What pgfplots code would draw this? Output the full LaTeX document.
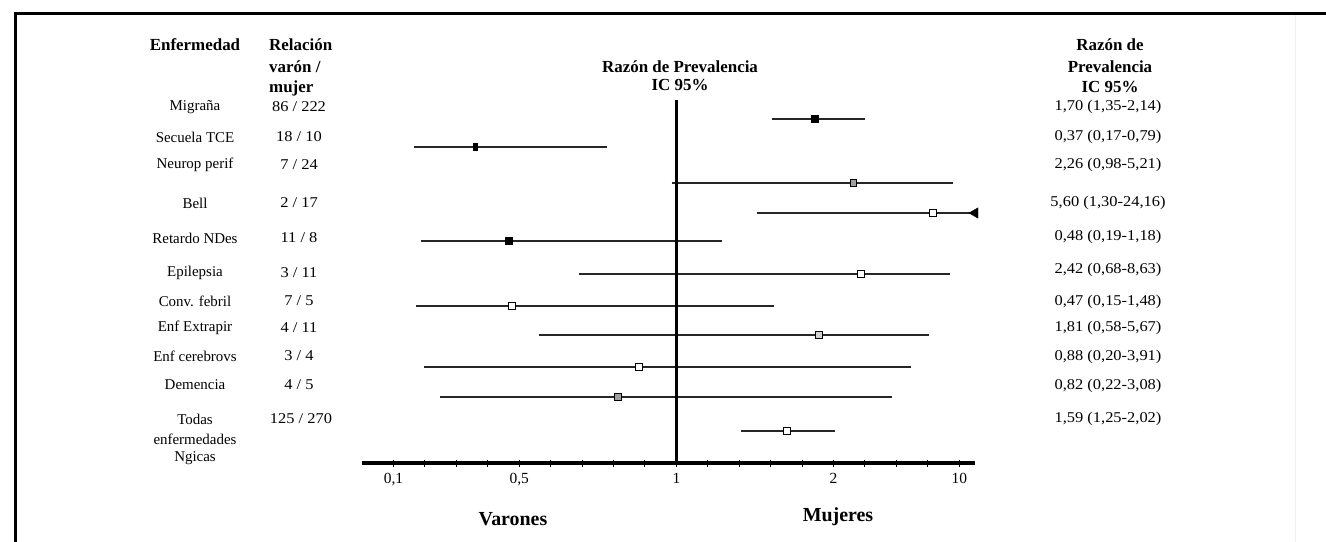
\documentclass[border=0pt]{standalone}
\usepackage{pgfplots}
\pgfplotsset{compat=1.18}
\usepackage{pgfplotstable}
\usepackage{fontspec}
\setmainfont{Liberation Serif}

% Positions as drawn in the original figure (its RR scale is not a true log scale):
% x unit = one minor tick; 0,1 -> 0 ; 0,5 -> 4 ; 1 -> 9 ; 2 -> 14 ; 10 -> 18
% y = height of the row above the x axis line
\pgfplotstableread{
x y
12.04 344
14.99 344
nan nan
0.66 316
6.80 316
nan nan
8.85 280
17.80 280
nan nan
11.56 250
18.45 250
nan nan
0.88 222
10.46 222
nan nan
5.90 189
17.70 189
nan nan
0.72 157
12.10 157
nan nan
4.63 128
17.03 128
nan nan
0.98 96
16.46 96
nan nan
1.48 66
15.85 66
nan nan
11.05 32
14.04 32
}\cilines

\newcommand{\bodyf}{\fontsize{15}{17}\selectfont}
\newcommand{\headf}{\fontsize{17}{19}\selectfont\bfseries}
\tikzset{txt/.style={font=\bodyf, inner sep=0},
         num/.style={font=\bodyf, inner sep=0, xscale=1.1, transform shape},
         hd/.style={font=\headf, inner sep=0}}

\begin{document}
\begin{tikzpicture}
\useasboundingbox (0,0) rectangle (1326bp,-542bp);
\begin{axis}[
  at={(362bp,-463bp)}, anchor=south west,
  scale only axis, width=613bp, height=368bp,
  xmin=-1, xmax=18.5, ymin=0, ymax=368,
  axis x line*=bottom, axis y line=none,
  x axis line style={line width=4bp, black},
  xtick={0,4,9,14,18},
  xticklabels={{0,1},{0,5},1,2,10},
  minor xtick={1,2,3,5,6,7,8,10,11,12,13,15,16,17},
  major tick length=7bp, minor tick length=7bp,
  tick align=center,
  tick style={line width=1bp, black},
  xticklabel style={font=\fontsize{15.5}{17}\selectfont, yshift=-3bp},
  clip=false,
]
\addplot[black!85, line width=1.8bp, unbounded coords=jump] table {\cilines};
\addplot[black, line width=3bp] coordinates {(9,0) (9,363)};
% filled black squares
\addplot[only marks, mark=square*, mark size=3.5bp, mark options={fill=black, draw=black}]
  coordinates {(13.40,344) (3.68,222)};
% narrow black marker (Secuela TCE)
\addplot[only marks, mark=square*, mark size=3.5bp, mark options={fill=black, draw=black, xscale=0.45}]
  coordinates {(2.60,316)};
% grey squares
\addplot[only marks, mark=square*, mark size=3.3bp, mark options={fill=gray!75, draw=black, line width=1bp}]
  coordinates {(14.63,280) (7.14,66)};
\addplot[only marks, mark=square*, mark size=3.3bp, mark options={fill=gray!35, draw=black, line width=1.4bp}]
  coordinates {(13.54,128)};
% white squares
\addplot[only marks, mark=square*, mark size=3.5bp, mark options={fill=white, draw=black, line width=0.9bp}]
  coordinates {(17.16,250) (14.87,189) (3.77,157) (7.81,96) (12.52,32)};
% arrow head (Bell)
\addplot[only marks, mark=triangle*, mark size=6bp, mark options={fill=black, draw=black, rotate=90}]
  coordinates {(18.50,250)};
\end{axis}

% frame
\draw[line width=3bp] (15bp,-542bp) -- (15bp,-13bp) -- (1326bp,-13bp);
\draw[line width=1bp, gray!12] (1295bp,-15bp) -- (1295bp,-542bp);

% headers
\node[hd] at (195bp,-45bp) {Enfermedad};
\node[hd, anchor=west] at (269bp,-45bp) {Relación};
\node[hd, anchor=west] at (269bp,-67bp) {varón /};
\node[hd, anchor=west] at (269bp,-88bp) {mujer};
\node[hd] at (680bp,-67bp) {Razón de Prevalencia};
\node[hd] at (680bp,-85bp) {IC 95\%};
\node[hd] at (1110bp,-45bp) {Razón de};
\node[hd] at (1110bp,-67bp) {Prevalencia};
\node[hd] at (1110bp,-87bp) {IC 95\%};

% disease names
\node[txt] at (195bp,-107bp) {Migraña};
\node[txt] at (195bp,-137bp) {Secuela TCE};
\node[txt] at (195bp,-165bp) {Neurop perif};
\node[txt] at (195bp,-203bp) {Bell};
\node[txt] at (195bp,-238bp) {Retardo NDes};
\node[txt] at (195bp,-273bp) {Epilepsia};
\node[txt] at (195bp,-301bp) {Conv. febril};
\node[txt] at (195bp,-328bp) {Enf Extrapir};
\node[txt] at (195bp,-356bp) {Enf cerebrovs};
\node[txt] at (195bp,-385bp) {Demencia};
\node[txt] at (195bp,-419bp) {Todas};
\node[txt] at (195bp,-439bp) {enfermedades};
\node[txt] at (195bp,-458bp) {Ngicas};

% male / female counts
\node[num] at (299bp,-107bp) {86 / 222};
\node[num] at (299bp,-137bp) {18 / 10};
\node[num] at (299bp,-165bp) {7 / 24};
\node[num] at (299bp,-203bp) {2 / 17};
\node[num] at (299bp,-238bp) {11 / 8};
\node[num] at (299bp,-273bp) {3 / 11};
\node[num] at (299bp,-301bp) {7 / 5};
\node[num] at (299bp,-328bp) {4 / 11};
\node[num] at (299bp,-356bp) {3 / 4};
\node[num] at (299bp,-385bp) {4 / 5};
\node[num] at (301bp,-419bp) {125 / 270};

% RR (95% CI)
\node[num] at (1108bp,-107bp) {1,70 (1,35-2,14)};
\node[num] at (1108bp,-137bp) {0,37 (0,17-0,79)};
\node[num] at (1108bp,-165bp) {2,26 (0,98-5,21)};
\node[num] at (1108bp,-203bp) {5,60 (1,30-24,16)};
\node[num] at (1108bp,-237bp) {0,48 (0,19-1,18)};
\node[num] at (1108bp,-270bp) {2,42 (0,68-8,63)};
\node[num] at (1108bp,-302bp) {0,47 (0,15-1,48)};
\node[num] at (1108bp,-328bp) {1,81 (0,58-5,67)};
\node[num] at (1108bp,-357bp) {0,88 (0,20-3,91)};
\node[num] at (1108bp,-386bp) {0,82 (0,22-3,08)};
\node[num] at (1108bp,-419bp) {1,59 (1,25-2,02)};

% bottom labels
\node[font=\fontsize{20}{22}\selectfont\bfseries, inner sep=0] at (513bp,-519bp) {Varones};
\node[font=\fontsize{20}{22}\selectfont\bfseries, inner sep=0] at (838bp,-517bp) {Mujeres};
\end{tikzpicture}
\end{document}
